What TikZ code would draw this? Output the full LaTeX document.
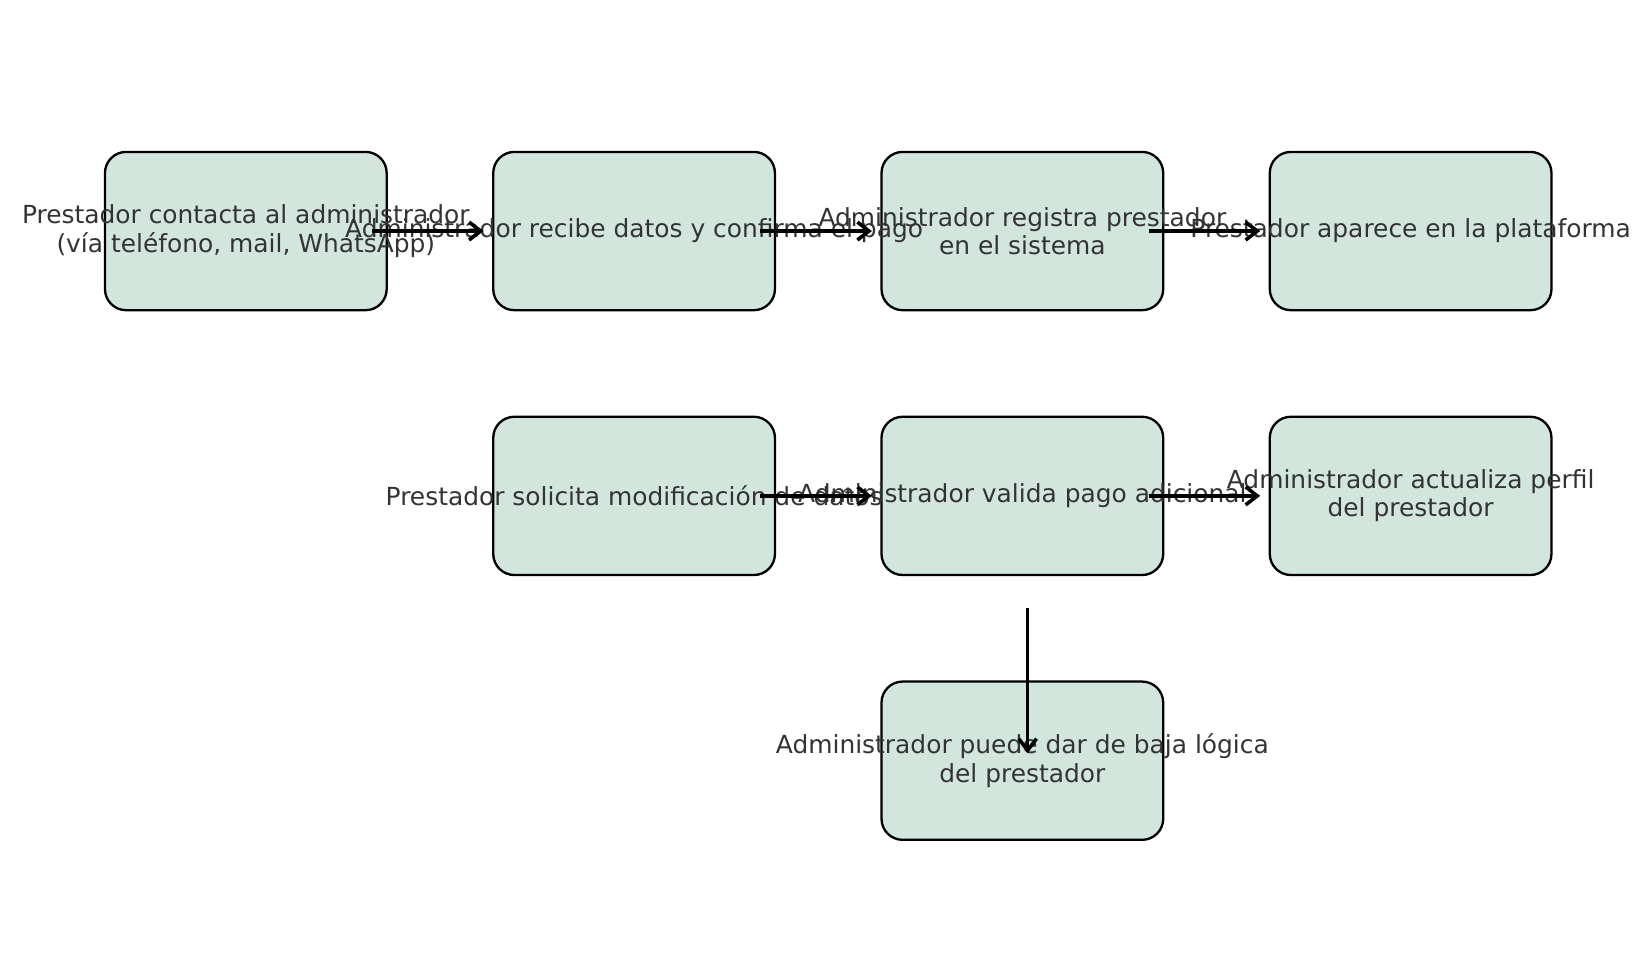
\documentclass[tikz,border=0pt]{standalone}
\usepackage{fontspec}
\setmainfont{DejaVu Sans}
\usetikzlibrary{positioning,arrows.meta}
\definecolor{boxfill}{HTML}{D2E6DD}
\definecolor{txt}{HTML}{333333}

\begin{document}
\begin{tikzpicture}[node distance={125.5pt and 184pt}, on grid,
		main/.style={draw, line width=1.1pt, rounded corners=10pt, fill=boxfill,
			minimum width=133.5pt, minimum height=75pt, align=center,
			text=txt, font=\fontsize{11.8}{13.5}\selectfont},
		arr/.style={line width=1.7pt, -{Straight Barb[length=5.5pt,width=8.5pt]}}]
		\useasboundingbox (0,0) rectangle (781pt,-456.9pt);
		\node[main] (1) at (116.5pt,-109.5pt) {};
		\node[main] (2) [right=of 1] {};
		\node[main] (3) [right=of 2] {};
		\node[main] (4) [right=of 3] {};
		\node[main] (5) [below=of 2] {};
		\node[main] (6) [right=of 5] {};
		\node[main] (7) [right=of 6] {};
		\node[main] (8) [below=of 6] {};

		% texts overflow the boxes, as in the original
		\node[main, draw=none, fill=none] at (1) {Prestador contacta al administrador\\(vía teléfono, mail, WhatsApp)};
		\node[main, draw=none, fill=none] at (2) {Administrador recibe datos y confirma el pago};
		\node[main, draw=none, fill=none] at (3) {Administrador registra prestador\\en el sistema};
		\node[main, draw=none, fill=none] at (4) {Prestador aparece en la plataforma};
		\node[main, draw=none, fill=none] at (5) {Prestador solicita modificación de datos};
		\node[main, draw=none, fill=none] at (6) {Administrador valida pago adicional};
		\node[main, draw=none, fill=none] at (7) {Administrador actualiza perfil\\del prestador};
		\node[main, draw=none, fill=none] at (8) {Administrador puede dar de baja lógica\\del prestador};

		\draw[arr] ([xshift=-7.5pt]1.east) -- ([xshift=-4pt]2.west);
		\draw[arr] ([xshift=-7.5pt]2.east) -- ([xshift=-4pt]3.west);
		\draw[arr] ([xshift=-7.5pt]3.east) -- ([xshift=-4pt]4.west);
		\draw[arr] ([xshift=-7.5pt]5.east) -- ([xshift=-4pt]6.west);
		\draw[arr] ([xshift=-7.5pt]6.east) -- ([xshift=-4pt]7.west);
		\draw[arr] ([xshift=2.5pt,yshift=-15pt]6.south) -- ([xshift=2.5pt,yshift=-34.5pt]8.north);
	\end{tikzpicture}
\end{document}
